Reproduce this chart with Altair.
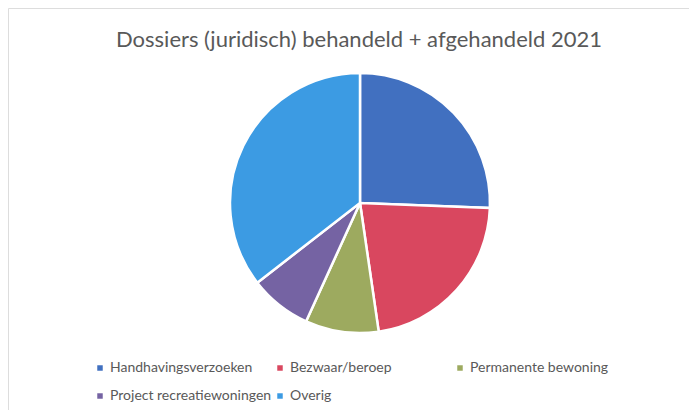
import altair as alt
import pandas as pd

categories = ["Handhavingsverzoeken", "Bezwaar/beroep", "Permanente bewoning",
              "Project recreatiewoningen", "Overig"]
values = [25.6, 22.1, 9.1, 7.7, 35.5]
colors = ["#4170c0", "#d9475f", "#9daa5f", "#7563a3", "#3c9be3"]
title_text = "Dossiers (juridisch) behandeld + afgehandeld 2021"

df = pd.DataFrame({"categorie": categories, "waarde": values,
                   "volgorde": list(range(len(categories)))})

pie = alt.Chart(df).mark_arc(outerRadius=130, stroke="white", strokeWidth=2.5).encode(
    theta=alt.Theta("waarde:Q", stack=True),
    order=alt.Order("volgorde:Q"),
    color=alt.Color(
        "categorie:N",
        scale=alt.Scale(domain=categories, range=colors),
        sort=categories,
        legend=alt.Legend(
            title=None, orient="none", legendX=85, legendY=353, columns=3,
            direction="horizontal", gridAlign="all",
            symbolType="square", symbolSize=30, labelFont="Lato",
            labelFontSize=14, labelColor="#595959", columnPadding=1,
            rowPadding=14, symbolStrokeWidth=0, labelOffset=3, labelLimit=400,
        ),
    ),
    x=alt.value(352),
    y=alt.value(195),
)

title_df = pd.DataFrame({"t": [title_text]})
title = alt.Chart(title_df).mark_text(
    font="Lato", fontSize=22, color="#595959", align="center", baseline="alphabetic"
).encode(text="t:N", x=alt.value(351), y=alt.value(39))

chart = alt.layer(pie, title).properties(
    width=681, height=402, autosize=alt.AutoSizeParams(type="none"), padding=0
).configure_view(stroke=None).configure(background="white")

chart.save("out.html", embed_options={"renderer": "svg", "actions": False})
